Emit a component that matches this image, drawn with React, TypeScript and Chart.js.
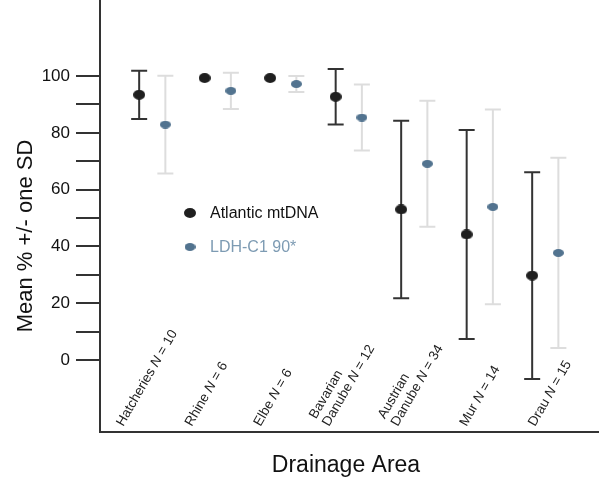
import React, { useEffect, useRef } from "react";
import { Chart, registerables } from "chart.js";

Chart.register(...registerables);

// ---- data ----
const categories = ["Hatcheries", "Rhine", "Elbe", "Bavarian\nDanube", "Austrian\nDanube", "Mur", "Drau"];
const sampleSizes = [10, 6, 6, 12, 34, 14, 15];
const mtdnaMean = [93.4, 99.3, 99.3, 92.7, 53.0, 44.2, 29.7];
const mtdnaSD = [8.5, 0, 0, 9.8, 31.3, 36.8, 36.4];
const ldhMean = [82.9, 94.8, 97.2, 85.4, 69.1, 53.9, 37.7];
const ldhSD = [17.2, 6.4, 2.8, 11.6, 22.2, 34.3, 33.5];
const yTickValues = [0, 10, 20, 30, 40, 50, 60, 70, 80, 90, 100];
const yLabelValues = [0, 20, 40, 60, 80, 100];
const seriesLabels = ["Atlantic mtDNA", "LDH-C1 90*"];
const xTitle = "Drainage Area";
const yTitle = "Mean % +/- one SD";

const FONT = "'Liberation Sans', Arial, Helvetica, sans-serif";

function makeEllipse(w: number, h: number, color: string): HTMLCanvasElement {
  const c = document.createElement("canvas");
  c.width = w;
  c.height = h;
  const g = c.getContext("2d")!;
  g.fillStyle = color;
  g.beginPath();
  g.ellipse(w / 2, h / 2, w / 2, h / 2, 0, 0, Math.PI * 2);
  g.fill();
  return c;
}

const errorBarPlugin = {
  id: "errorBars",
  beforeDatasetsDraw(chart: any) {
    const { ctx, scales } = chart;
    const xs = scales.x;
    const ys = scales.y;
    chart.data.datasets.forEach((ds: any) => {
      const errs: number[] = ds.errors || [];
      ctx.save();
      ctx.strokeStyle = ds.errorColor;
      ctx.lineWidth = 2;
      ds.data.forEach((p: any, i: number) => {
        const sd = errs[i];
        if (!sd) return;
        const x = xs.getPixelForValue(p.x);
        const yTop = ys.getPixelForValue(p.y + sd);
        const yBot = ys.getPixelForValue(p.y - sd);
        const cap = 8;
        ctx.beginPath();
        ctx.moveTo(x, yTop);
        ctx.lineTo(x, yBot);
        ctx.moveTo(x - cap, yTop);
        ctx.lineTo(x + cap, yTop);
        ctx.moveTo(x - cap, yBot);
        ctx.lineTo(x + cap, yBot);
        ctx.stroke();
      });
      ctx.restore();
    });
  },
};

const annotationsPlugin = {
  id: "annotations",
  afterDraw(chart: any) {
    const { ctx, chartArea, scales } = chart;
    const xs = scales.x;
    ctx.save();

    // legend
    chart.data.datasets.forEach((ds: any, k: number) => {
      const cx = chartArea.left + 90;
      const cy = chartArea.top + 213 + k * 34;
      const img: HTMLCanvasElement = ds.pointStyle;
      ctx.drawImage(img, cx - img.width / 2, cy - img.height / 2);
      ctx.fillStyle = ds.legendColor;
      ctx.font = `16px ${FONT}`;
      ctx.textAlign = "left";
      ctx.textBaseline = "middle";
      ctx.fillText(ds.label, cx + 20, cy + 1);
    });

    // category labels (rotated)
    const angle = (-60 * Math.PI) / 180;
    const lineH = 15;
    categories.forEach((cat, i) => {
      const lines = cat.split("\n");
      const x0 = xs.getPixelForValue(-0.49 + 1.048 * i) + 3;
      const y0 = chartArea.bottom - 5;
      ctx.save();
      ctx.translate(x0, y0);
      ctx.rotate(angle);
      ctx.fillStyle = "#222";
      ctx.textAlign = "left";
      ctx.textBaseline = "alphabetic";
      lines.forEach((ln, li) => {
        const y = -(lines.length - 1 - li) * lineH;
        let x = 0;
        const isLast = li === lines.length - 1;
        const normal = `13.5px ${FONT}`;
        const italic = `italic 13.5px ${FONT}`;
        ctx.font = normal;
        const first = isLast ? ln + " " : ln;
        ctx.fillText(first, x, y);
        x += ctx.measureText(first).width;
        if (isLast) {
          ctx.font = italic;
          ctx.fillText("N", x, y);
          x += ctx.measureText("N").width;
          ctx.font = normal;
          ctx.fillText(" = " + sampleSizes[i], x, y);
        }
      });
      ctx.restore();
    });

    // axis titles
    ctx.fillStyle = "#111";
    ctx.font = `23px ${FONT}`;
    ctx.textAlign = "center";
    ctx.textBaseline = "alphabetic";
    ctx.fillText(xTitle, 346, 472);

    ctx.save();
    ctx.translate(32, 236);
    ctx.rotate(-Math.PI / 2);
    ctx.font = `22px ${FONT}`;
    ctx.textAlign = "center";
    ctx.fillText(yTitle, 0, 0);
    ctx.restore();

    ctx.restore();
  },
};

export default function App() {
  const ref = useRef<HTMLCanvasElement | null>(null);

  useEffect(() => {
    document.body.style.margin = "0";
    const canvas = ref.current!;
    const blackDot = makeEllipse(12, 10, "#1f1f1f");
    const blueDot = makeEllipse(11, 8, "#52738f");

    const chart = new Chart(canvas, {
      type: "scatter",
      data: {
        datasets: [
          {
            label: seriesLabels[0],
            data: mtdnaMean.map((m, i) => ({ x: i - 0.2, y: m })),
            pointStyle: blackDot as any,
            errors: mtdnaSD,
            errorColor: "#333333",
            legendColor: "#111111",
          } as any,
          {
            label: seriesLabels[1],
            data: ldhMean.map((m, i) => ({ x: i + 0.2, y: m })),
            pointStyle: blueDot as any,
            errors: ldhSD,
            errorColor: "#dddddd",
            legendColor: "#7d9bb3",
          } as any,
        ],
      },
      options: {
        animation: false,
        responsive: false,
        devicePixelRatio: 1,
        layout: { autoPadding: false, padding: { top: 0, right: 2, bottom: 0, left: 0 } },
        plugins: { legend: { display: false }, tooltip: { enabled: false } },
        scales: {
          x: {
            type: "linear",
            min: -0.798,
            max: 6.805,
            ticks: { display: false },
            grid: { display: false, drawTicks: false },
            border: { display: true, color: "#333333", width: 2 },
            afterFit: (s: any) => {
              s.height = 46;
              s.paddingLeft = 0;
              s.paddingRight = 0;
            },
          },
          y: {
            type: "linear",
            min: -25.4,
            max: 126.8,
            afterBuildTicks: (axis: any) => {
              axis.ticks = yTickValues.map((v) => ({ value: v }));
            },
            ticks: {
              padding: 6,
              color: "#111",
              font: { family: FONT, size: 17 },
              callback: (v: any) => (yLabelValues.includes(Number(v)) ? String(v) : ""),
            },
            grid: {
              display: true,
              drawOnChartArea: false,
              drawTicks: true,
              tickLength: 24,
              color: "#333333",
              lineWidth: 2,
            },
            border: { display: true, color: "#333333", width: 2 },
            afterFit: (s: any) => {
              s.width = 100;
              s.paddingTop = 0;
              s.paddingBottom = 0;
            },
          },
        },
      },
      plugins: [errorBarPlugin, annotationsPlugin],
    } as any);

    return () => chart.destroy();
  }, []);

  return <canvas ref={ref} width={600} height={478} style={{ display: "block" }} />;
}
